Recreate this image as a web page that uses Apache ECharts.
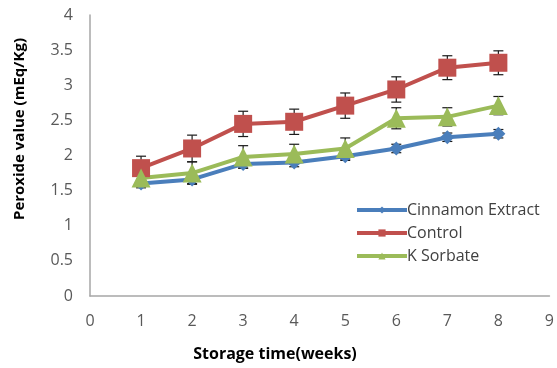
<!DOCTYPE html>
<html>
<head>
<meta charset="utf-8">
<script src="https://cdn.jsdelivr.net/npm/echarts@6/dist/echarts.min.js"></script>
<style>
  html, body { margin: 0; padding: 0; background: #ffffff; }
  #chart { width: 557px; height: 368px; }
</style>
</head>
<body>
<div id="chart"></div>
<script>
// Peroxide value over storage weeks for three treatments (mean ± error)
const weeks = [1, 2, 3, 4, 5, 6, 7, 8];
const seriesNames = ['Cinnamon Extract', 'Control', 'K Sorbate'];
const cinnamon = [1.60, 1.66, 1.88, 1.90, 1.99, 2.10, 2.26, 2.31];
const control = [1.82, 2.10, 2.45, 2.48, 2.71, 2.94, 3.25, 3.32];
const sorbate = [1.68, 1.75, 1.98, 2.02, 2.10, 2.53, 2.55, 2.71];
const cinnamonErr = [0.06, 0.06, 0.06, 0.06, 0.06, 0.06, 0.06, 0.06];
const controlErr = [0.17, 0.19, 0.18, 0.18, 0.18, 0.18, 0.17, 0.17];
const sorbateErr = [0.12, 0.16, 0.16, 0.14, 0.15, 0.15, 0.13, 0.13];
const xTicks = [0, 1, 2, 3, 4, 5, 6, 7, 8, 9];
const yTicks = [0, 0.5, 1, 1.5, 2, 2.5, 3, 3.5, 4];

const colors = ['#4a7ebb', '#c0504d', '#9bbb59'];
const font = '"Open Sans", Lato, sans-serif';

function pairs(vals) { return weeks.map((w, i) => [w, vals[i]]); }
function bars(vals, errs) { return weeks.map((w, i) => [w, vals[i] - errs[i], vals[i] + errs[i]]); }

function errorBar(params, api) {
  const x = api.value(0);
  const lo = api.coord([x, api.value(1)]);
  const hi = api.coord([x, api.value(2)]);
  const half = 5;
  const style = { stroke: '#1a1a1a', lineWidth: 1.2 };
  return {
    type: 'group',
    children: [
      { type: 'line', shape: { x1: lo[0], y1: lo[1], x2: hi[0], y2: hi[1] }, style },
      { type: 'line', shape: { x1: lo[0] - half, y1: lo[1], x2: lo[0] + half, y2: lo[1] }, style },
      { type: 'line', shape: { x1: hi[0] - half, y1: hi[1], x2: hi[0] + half, y2: hi[1] }, style }
    ]
  };
}

function errSeries(vals, errs) {
  return {
    type: 'custom',
    renderItem: errorBar,
    data: bars(vals, errs),
    encode: { x: 0, y: [1, 2] },
    z: 1,
    silent: true
  };
}

function lineSeries(name, vals, color, symbol, size) {
  return {
    name: name,
    type: 'line',
    data: pairs(vals),
    symbol: symbol,
    symbolSize: size,
    showAllSymbol: true,
    lineStyle: { color: color, width: 4 },
    itemStyle: { color: color },
    z: 3
  };
}

const chart = echarts.init(document.getElementById('chart'));
chart.setOption({
  animation: false,
  grid: { left: 90, right: 7, top: 15, bottom: 72 },
  xAxis: {
    type: 'value',
    min: xTicks[0],
    max: xTicks[xTicks.length - 1],
    interval: 1,
    axisLine: { show: true, lineStyle: { color: '#a6a6a6', width: 1.5 } },
    axisTick: { show: false },
    splitLine: { show: false },
    axisLabel: { color: '#595959', fontSize: 16, fontFamily: font, margin: 17 }
  },
  yAxis: {
    type: 'value',
    min: yTicks[0],
    max: yTicks[yTicks.length - 1],
    interval: 0.5,
    axisLine: { show: true, lineStyle: { color: '#a6a6a6', width: 1.5 } },
    axisTick: { show: false },
    splitLine: { show: false },
    axisLabel: { color: '#595959', fontSize: 16, fontFamily: font, margin: 17 }
  },
  legend: {
    orient: 'vertical',
    left: 350,
    top: 197,
    itemWidth: 50,
    itemHeight: 9,
    itemGap: 7,
    data: seriesNames,
    lineStyle: { width: 4 },
    textStyle: { color: '#404040', fontSize: 16, fontFamily: font, padding: [0, 0, 0, -5] }
  },
  graphic: [
    {
      type: 'text',
      style: {
        text: 'Peroxide value (mEq/Kg)',
        font: 'bold 15px ' + font,
        fill: '#000000',
        textAlign: 'center',
        textVerticalAlign: 'middle'
      },
      x: 20,
      y: 129,
      rotation: Math.PI / 2
    },
    {
      type: 'text',
      style: {
        text: 'Storage time(weeks)',
        font: 'bold 16px ' + font,
        fill: '#000000',
        textAlign: 'center',
        textVerticalAlign: 'middle'
      },
      x: 275,
      y: 354
    }
  ],
  series: [
    errSeries(cinnamon, cinnamonErr),
    errSeries(control, controlErr),
    errSeries(sorbate, sorbateErr),
    lineSeries(seriesNames[0], cinnamon, colors[0], 'diamond', 14),
    lineSeries(seriesNames[1], control, colors[1], 'rect', 18),
    lineSeries(seriesNames[2], sorbate, colors[2], 'triangle', 19)
  ]
});
</script>
</body>
</html>
